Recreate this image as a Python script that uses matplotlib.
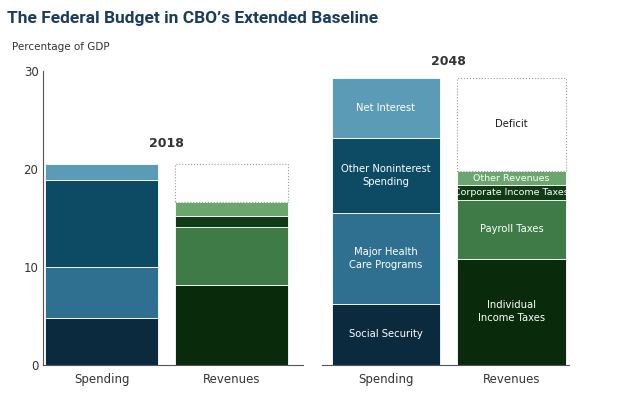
import matplotlib
matplotlib.use("Agg")
import matplotlib.pyplot as plt

cats = ["Spending", "Revenues"]
years = ["2018", "2048"]
spend_labels = ["Social Security", "Major Health\nCare Programs", "Other Noninterest\nSpending", "Net Interest"]
rev_labels = ["Individual\nIncome Taxes", "Payroll Taxes", "Corporate Income Taxes", "Other Revenues", "Deficit"]
spend_2018 = [4.8, 5.2, 8.9, 1.6]
rev_2018 = [8.1, 5.9, 1.2, 1.4, 3.9]
spend_2048 = [6.2, 9.3, 7.6, 6.2]
rev_2048 = [10.8, 6.0, 1.5, 1.5, 9.5]
spend_colors = ["#0c2a3d", "#2f7090", "#0d4a64", "#5c9bb6"]
rev_colors = ["#0a2a0c", "#3f7b46", "#0f3b15", "#6aa66e", "white"]

fig = plt.figure(figsize=(6.19, 4.05), dpi=100)
fig.text(0.012, 0.955, "The Federal Budget in CBO\u2019s Extended Baseline", fontsize=12.5,
         fontweight="bold", color="#1a3d5c", va="center", family="Roboto")
fig.text(0.02, 0.885, "Percentage of GDP", fontsize=7.5, color="#333", va="center")
ax1 = fig.add_axes([0.07, 0.10, 0.42, 0.725])
ax2 = fig.add_axes([0.52, 0.10, 0.40, 0.725])

def draw(ax, spend, rev, labels_on, xlim, w):
    for i, (vals, cols, labs) in enumerate([(spend, spend_colors, spend_labels), (rev, rev_colors, rev_labels)]):
        bottom = 0
        for v, c, lab in zip(vals, cols, labs):
            if c == "white":
                ax.bar(i, v, bottom=bottom, width=w, color="white", edgecolor="#999", linestyle=":", linewidth=0.8)
            else:
                ax.bar(i, v, bottom=bottom, width=w, color=c, edgecolor="white", linewidth=0.6)
            if labels_on:
                tc = "#1a1a1a" if c == "white" else "white"
                fs = 6.8 if "Corporate" in lab or "Other Rev" in lab else 7.2
                ax.text(i, bottom + v / 2, lab, ha="center", va="center", color=tc, fontsize=fs, linespacing=1.3)
            bottom += v
    ax.set_xlim(*xlim)
    ax.set_ylim(0, 30)
    ax.set_xticks([0, 1])
    ax.set_xticklabels(cats, fontsize=8.5, color="#333")
    ax.tick_params(axis="x", length=0, pad=6)
    for s in ["top", "right"]:
        ax.spines[s].set_visible(False)
    ax.spines["bottom"].set_color("#555")

draw(ax1, spend_2018, rev_2018, False, (-0.45, 1.55), 0.87)
draw(ax2, spend_2048, rev_2048, True, (-0.51, 1.46), 0.865)
ax1.set_yticks([0, 10, 20, 30])
ax1.tick_params(axis="y", labelsize=8.5, colors="#333", length=0)
ax1.spines["left"].set_color("#555")
ax2.spines["left"].set_visible(False)
ax2.set_yticks([])
ax1.text(0.5, 22.2, years[0], ha="center", fontsize=9, fontweight="bold", color="#333")
ax2.text(0.5, 30.6, years[1], ha="center", fontsize=9, fontweight="bold", color="#333")
fig.savefig("out.png", dpi=100)
